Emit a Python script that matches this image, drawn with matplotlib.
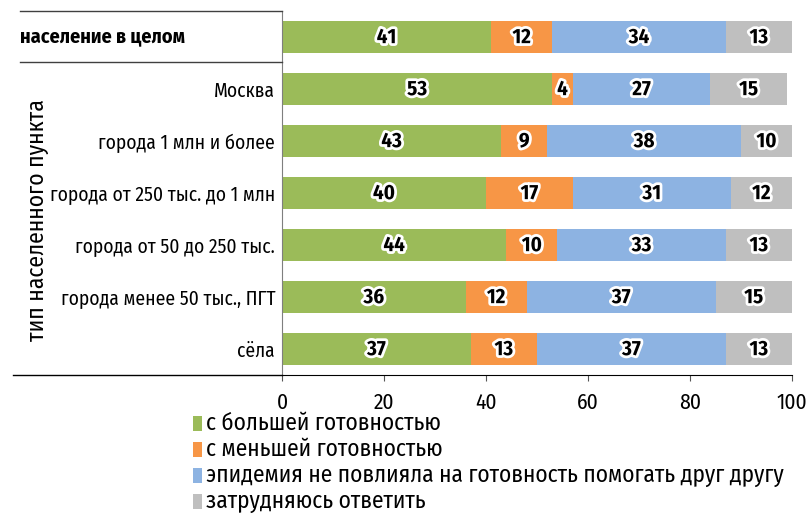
import matplotlib.pyplot as plt
import matplotlib.patheffects as pe
from matplotlib.lines import Line2D
from matplotlib.patches import Rectangle
import matplotlib.font_manager as fm

names = {f.name for f in fm.fontManager.ttflist}
prefs = ['Fira Sans Condensed', 'Roboto Condensed', 'PT Sans Narrow',
         'Open Sans Condensed', 'Noto Sans Condensed', 'Archivo Narrow']
base = next((n for n in prefs if n in names), 'DejaVu Sans')
plt.rcParams['font.family'] = [base, 'DejaVu Sans']

# данные
categories = ['население в целом', 'Москва', 'города 1 млн и более',
              'города от 250 тыс. до 1 млн', 'города от 50 до 250 тыс.',
              'города менее 50 тыс., ПГТ', 'сёла']
more_ready = [41, 53, 43, 40, 44, 36, 37]
less_ready = [12, 4, 9, 17, 10, 12, 13]
no_effect = [34, 27, 38, 31, 33, 37, 37]
hard_to_say = [13, 15, 10, 12, 13, 15, 13]
series_names = ['с большей готовностью', 'с меньшей готовностью',
                'эпидемия не повлияла на готовность помогать друг другу',
                'затрудняюсь ответить']
colors = ['#9BBB59', '#F79646', '#8DB3E2', '#BFBFBF']
xticks = [0, 20, 40, 60, 80, 100]

W, H = 811, 514
fig = plt.figure(figsize=(W / 100, H / 100), dpi=100)
ax = fig.add_axes([282 / W, 1 - 375 / H, (792 - 282) / W, (375 - 11) / H])

y = list(range(len(categories)))
left = [0] * len(categories)
for vals, col, name in zip([more_ready, less_ready, no_effect, hard_to_say], colors, series_names):
    ax.barh(y, vals, left=left, height=0.6, color=col, label=name)
    for yi, l, v in zip(y, left, vals):
        t = ax.text(l + v / 2, yi, str(v), ha='center', va='center',
                    fontsize=15, fontweight='bold', color='black')
        t.set_path_effects([pe.withStroke(linewidth=4, foreground='white')])
    left = [a + b for a, b in zip(left, vals)]

ax.set_ylim(len(categories) - 0.5, -0.5)
ax.set_xlim(0, 100)
ax.set_xticks(xticks)
ax.set_xticklabels([str(v) for v in xticks], fontsize=15.5)
ax.set_yticks(y)
ax.set_yticklabels([''] + categories[1:], fontsize=14)
ax.tick_params(axis='y', length=0, pad=5)
ax.tick_params(axis='x', length=4, direction='out', color='#555555', pad=8)
for s in ['top', 'right']:
    ax.spines[s].set_visible(False)
ax.spines['left'].set_color('#7f7f7f')
ax.spines['bottom'].set_color('black')

# первая категория выделена и прижата влево
fig.text(20 / W, 1 - 37 / H, categories[0], ha='left', va='center',
         fontsize=14.5, fontweight='bold')

# разделительные линии слева
for yy, x0, c in [(11, 20, '#404040'), (62, 20, '#404040'), (375, 13, 'black')]:
    fig.add_artist(Line2D([x0 / W, 282 / W], [1 - yy / H, 1 - yy / H],
                          color=c, lw=1))

fig.text(37 / W, 1 - 220 / H, 'тип населенного пункта', rotation=90,
         ha='center', va='center', fontsize=17)

# легенда
for i, (c, name) in enumerate(zip(colors, series_names)):
    yc = 423 + i * 26.3
    fig.add_artist(Rectangle((193 / W, 1 - (yc + 7.5) / H), 9 / W, 15 / H,
                             facecolor=c, edgecolor='none', transform=fig.transFigure))
    fig.text(206 / W, 1 - yc / H, name, ha='left', va='center', fontsize=16.8)

fig.savefig('out.png', dpi=100)
